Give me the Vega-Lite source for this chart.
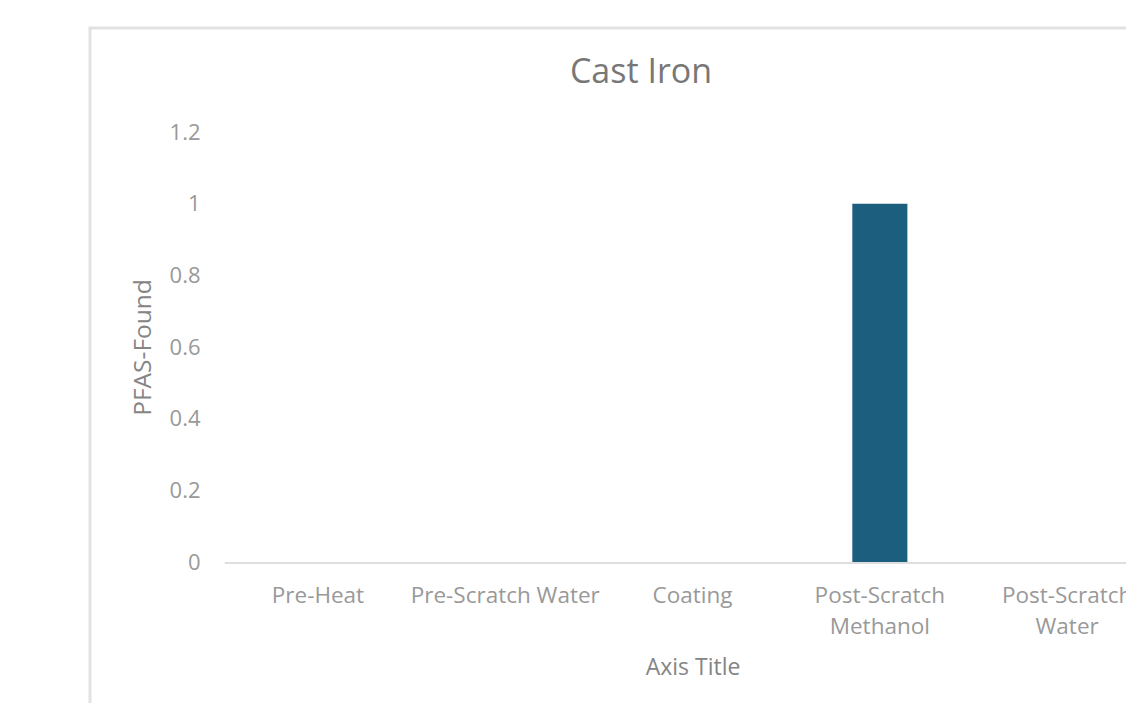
{
  "$schema": "https://vega.github.io/schema/vega-lite/v6.json",
  "autosize": {"type": "none"},
  "padding": {"left": 90, "top": 28, "right": -66, "bottom": -3},
  "width": 1102,
  "height": 678,
  "background": "white",
  "config": {
    "view": {"stroke": "#e2e2e2", "strokeWidth": 3},
    "font": "Open Sans"
  },
  "title": {
    "text": "Cast Iron",
    "anchor": "middle",
    "frame": "group",
    "baseline": "alphabetic",
    "offset": 0,
    "dy": 89,
    "fontSize": 34,
    "fontWeight": "normal",
    "color": "#777777"
  },
  "data": {
    "values": [
      {"stage": "Pre-Heat", "pfas": 0},
      {"stage": "Pre-Scratch Water", "pfas": 0},
      {"stage": "Coating", "pfas": 0},
      {"stage": "Post-Scratch Methanol", "pfas": 1},
      {"stage": "Post-Scratch Water", "pfas": 0}
    ]
  },
  "mark": {"type": "bar", "color": "#1b5e7e"},
  "encoding": {
    "x": {
      "field": "stage",
      "type": "nominal",
      "sort": null,
      "scale": {"range": [134.3, 1070.8], "paddingInner": 0.706, "paddingOuter": 0.353},
      "axis": {
        "title": "Axis Title",
        "titleFont": "Open Sans",
        "titleFontSize": 23,
        "titleFontWeight": "normal",
        "titleColor": "#858585",
        "titlePadding": 18,
        "offset": -143.5,
        "labelAngle": 0,
        "labelFontSize": 22.5,
        "labelColor": "#999999",
        "labelPadding": 33,
        "labelLineHeight": 31,
        "labelBaseline": "middle",
        "labelLimit": 0,
        "labelOverlap": false,
        "ticks": false,
        "tickSize": 0,
        "domainColor": "#dedede",
        "domainWidth": 2,
        "grid": false,
        "labelExpr": "datum.label == 'Post-Scratch Methanol' ? ['Post-Scratch', 'Methanol'] : datum.label == 'Post-Scratch Water' ? ['Post-Scratch', 'Water'] : datum.label"
      }
    },
    "y": {
      "field": "pfas",
      "type": "quantitative",
      "scale": {"domain": [0, 1.2], "range": [534, 104], "nice": false, "zero": true},
      "axis": {
        "title": "PFAS-Found",
        "titleFont": "Open Sans",
        "titleFontSize": 24.5,
        "titleFontWeight": "normal",
        "titleColor": "#858585",
        "titlePadding": 14,
        "offset": -110,
        "values": [0, 0.2, 0.4, 0.6, 0.8, 1, 1.2],
        "format": "~g",
        "labelFontSize": 22,
        "labelColor": "#999999",
        "labelPadding": 0,
        "ticks": false,
        "tickSize": 0,
        "domain": false,
        "grid": false
      }
    }
  }
}
